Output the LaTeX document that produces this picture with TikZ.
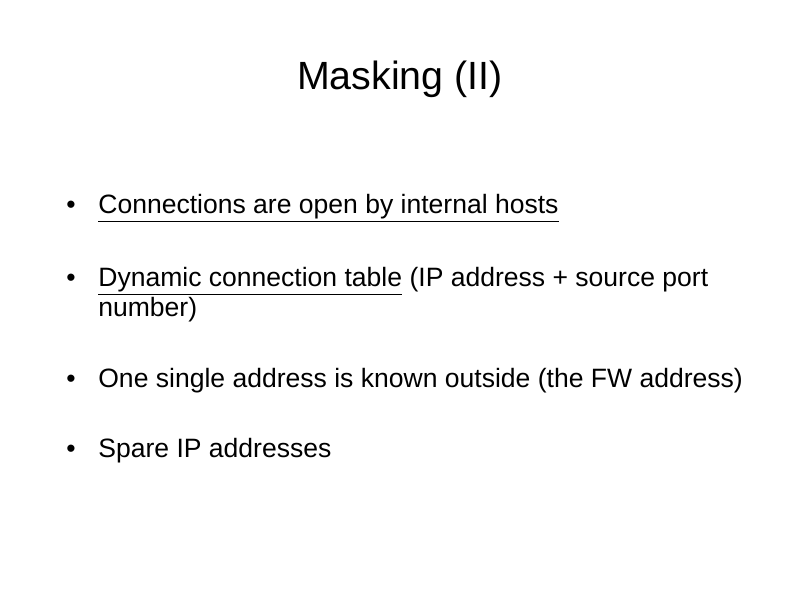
\documentclass[tikz,border=0pt]{standalone}
\usepackage{fontspec}
\setmainfont{Liberation Sans}
\usepackage{tikz}
\usetikzlibrary{positioning}
\definecolor{slidebg}{RGB}{255,255,255}
\definecolor{slidetext}{RGB}{0,0,0}
\tikzstyle{slidetitle} = [font=\fontsize{22.4}{26}\selectfont, anchor=base, inner sep=0pt, text=slidetext]
\tikzstyle{item} = [font=\fontsize{15.1}{17}\selectfont, anchor=base west, inner sep=0pt, align=left, text=slidetext]
\tikzstyle{dot} = [font=\fontsize{15.1}{17}\selectfont, anchor=base west, inner sep=0pt, text=slidetext]

\begin{document}
\begin{tikzpicture}
\fill[slidebg] (0,0) rectangle (16,12);
\useasboundingbox (0,0) rectangle (16,12);
% Title
\node[slidetitle] (title) at (8,10.2) {Masking (II)};
% Bullets
\node[item] (conn) at (1.96,7.74) {\underline{Connections are open by internal hosts}};
\node[item] (table) at (1.96,5.68) {\underline{Dynamic connection table} (IP address + source port\\number)};
\node[item] (single) at (1.96,4.26) {One single address is known outside (the FW address)};
\node[item] (spare) at (1.96,2.86) {Spare IP addresses};
\foreach \n in {conn,single,spare}
  \node[dot] at ([xshift=-0.64cm]\n.base west) {\textbullet};
\node[dot] at ([xshift=-0.64cm,yshift=0.6cm]table.base west) {\textbullet};
\end{tikzpicture}
\end{document}
